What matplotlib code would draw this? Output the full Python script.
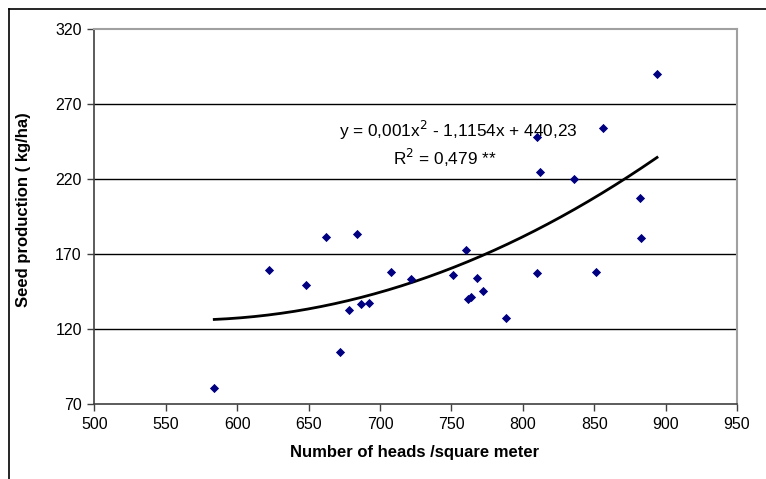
import numpy as np
import matplotlib
matplotlib.use("Agg")
import matplotlib.pyplot as plt
from matplotlib.lines import Line2D

plt.rcParams['font.family'] = ['Liberation Sans', 'DejaVu Sans']

heads = [584, 622, 648, 662, 672, 678, 684, 687, 692, 708, 722, 751, 760,
         762, 764, 768, 772, 788, 810, 810, 812, 836, 851, 856, 882, 883, 894]
seed = [81, 159.6, 149.4, 181.2, 104.6, 133, 183.1, 136.8, 137.6, 158, 153.4,
        155.9, 172.5, 140, 141.4, 154.3, 145.6, 127.4, 157.4, 247.9, 224.8,
        220.2, 158, 254.1, 207.5, 180.4, 290]

# trend line coefficients (quadratic), as fitted in the chart
trend_coef = [0.00099, -1.1154, 440.23]
trend_range = [584, 894]

x_ticks = [500, 550, 600, 650, 700, 750, 800, 850, 900, 950]
y_ticks = [70, 120, 170, 220, 270, 320]

W, H = 766, 479
fig = plt.figure(figsize=(W / 100, H / 100), dpi=100)
ax = fig.add_axes([94.3 / W, 1 - 404.3 / H, (737 - 94.3) / W, (404.3 - 28.7) / H])

for yv in y_ticks[1:-1]:
    ax.axhline(yv, color='black', lw=1.0, zorder=1)

xs = np.linspace(trend_range[0], trend_range[1], 200)
ax.plot(xs, np.polyval(trend_coef, xs), color='black', lw=2.0, zorder=2)

ax.scatter(heads, seed, marker='D', s=22, color='#000080', linewidths=0, zorder=4)

ax.set_xlim(500, 950)
ax.set_ylim(70, 320)
ax.set_xticks(x_ticks)
ax.set_yticks(y_ticks)
ax.tick_params(direction='out', length=5, width=1, color='#404040', labelsize=11.5,
               labelcolor='black', pad=4)
for s in ['left', 'bottom']:
    ax.spines[s].set_color('#404040')
    ax.spines[s].set_linewidth(1.2)
for s in ['top', 'right']:
    ax.spines[s].set_color('#a0a0a0')
    ax.spines[s].set_linewidth(1.5)

ax.set_xlabel("Number of heads /square meter", fontsize=12, fontweight='bold')
ax.set_ylabel("Seed production ( kg/ha)", fontsize=12, fontweight='bold')
ax.xaxis.set_label_coords(((414.5 - 94.3) / (737 - 94.3)), -(453 - 404.3) / (404.3 - 28.7))
ax.yaxis.set_label_coords(-(94.3 - 24) / (737 - 94.3), (404.3 - 210) / (404.3 - 28.7))
ax.xaxis.label.set_va('center')
ax.yaxis.label.set_va('center')

fig.text(458 / W, 1 - 130 / H, r"y = 0,001x$^{2}$ - 1,1154x + 440,23", fontsize=12.4,
         ha='center', va='center', zorder=3)
fig.text(445 / W, 1 - 157.7 / H, r"R$^{2}$ = 0,479 **", fontsize=12.4,
         ha='center', va='center', zorder=3)

# outer chart border (left and top edges visible)
fig.add_artist(Line2D([9 / W, 1], [1 - 9 / H, 1 - 9 / H], color='black', lw=1.2))
fig.add_artist(Line2D([9 / W, 9 / W], [1 - 9 / H, 0], color='black', lw=1.2))

fig.savefig("out.png", dpi=100)
